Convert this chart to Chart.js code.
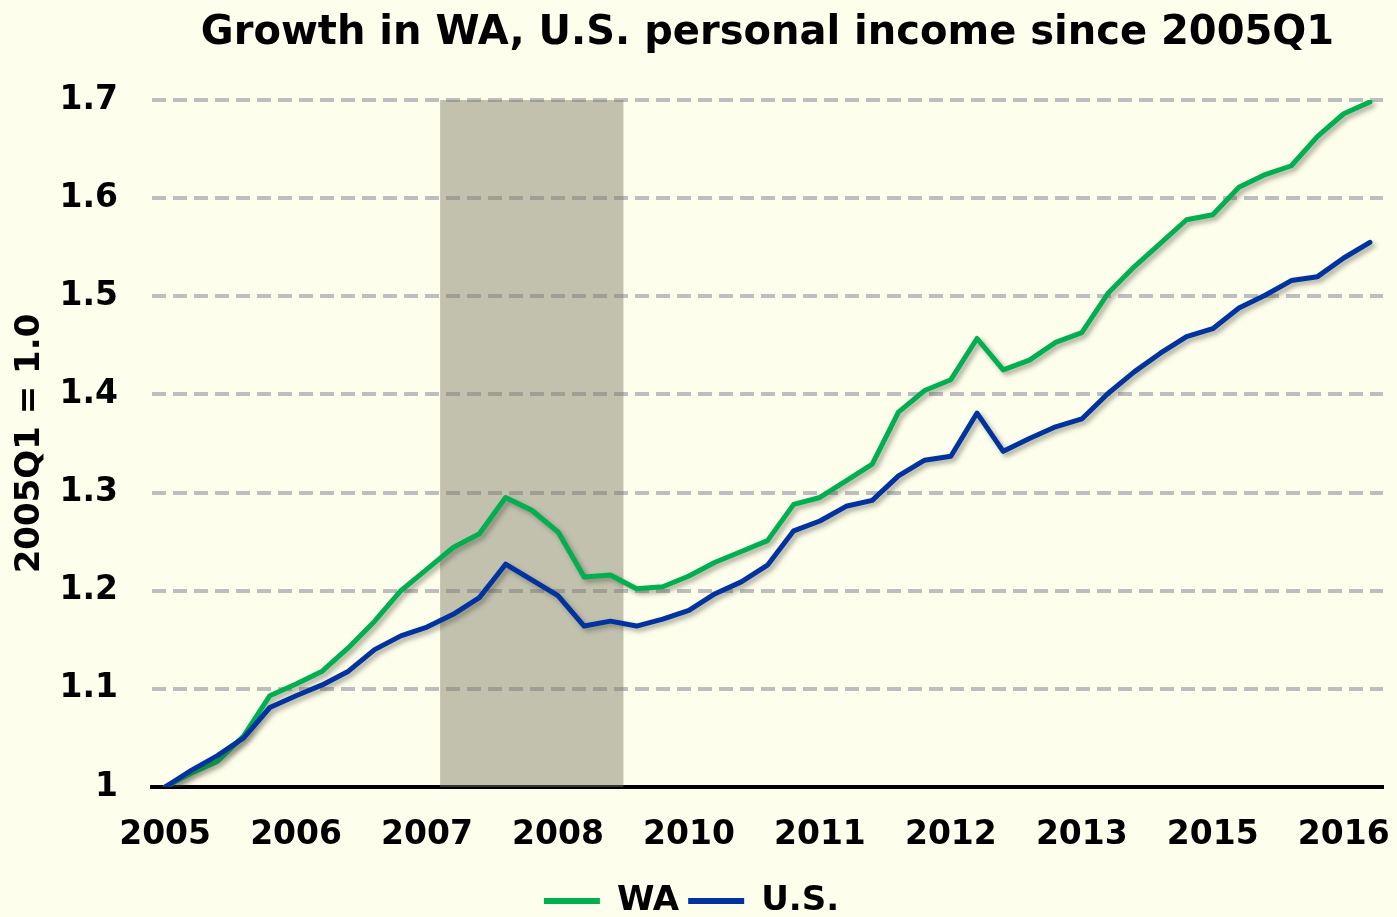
<!DOCTYPE html>
<html>
<head>
<meta charset="utf-8">
<script src="https://cdn.jsdelivr.net/npm/chart.js@4"></script>
<style>
  html, body { margin: 0; padding: 0; background: #fefeec; }
  #wrap { width: 1397px; height: 917px; }
</style>
</head>
<body>
<div id="wrap"><canvas id="myChart"></canvas></div>
<script>
const quarters = [
  '2005Q1','2005Q2','2005Q3','2005Q4','2006Q1','2006Q2','2006Q3','2006Q4',
  '2007Q1','2007Q2','2007Q3','2007Q4','2008Q1','2008Q2','2008Q3','2008Q4',
  '2009Q1','2009Q2','2009Q3','2009Q4','2010Q1','2010Q2','2010Q3','2010Q4',
  '2011Q1','2011Q2','2011Q3','2011Q4','2012Q1','2012Q2','2012Q3','2012Q4',
  '2013Q1','2013Q2','2013Q3','2013Q4','2014Q1','2014Q2','2014Q3','2014Q4',
  '2015Q1','2015Q2','2015Q3','2015Q4','2016Q1','2016Q2','2016Q3'
];

const wa = [1.000, 1.014, 1.026, 1.052, 1.093, 1.105, 1.118, 1.142, 1.169, 1.200,
  1.222, 1.244, 1.258, 1.295, 1.282, 1.260, 1.214, 1.216, 1.202, 1.204,
  1.215, 1.229, 1.240, 1.251, 1.288, 1.295, 1.312, 1.329, 1.382, 1.404,
  1.415, 1.457, 1.425, 1.435, 1.453, 1.463, 1.503, 1.530, 1.554, 1.578,
  1.583, 1.611, 1.624, 1.633, 1.663, 1.686, 1.698];

const us = [1.000, 1.017, 1.032, 1.050, 1.081, 1.093, 1.104, 1.118, 1.140, 1.154,
  1.163, 1.176, 1.193, 1.227, 1.211, 1.195, 1.164, 1.169, 1.164, 1.171,
  1.180, 1.197, 1.209, 1.226, 1.261, 1.271, 1.286, 1.292, 1.317, 1.333,
  1.337, 1.381, 1.342, 1.355, 1.367, 1.375, 1.401, 1.423, 1.442, 1.459,
  1.467, 1.488, 1.501, 1.516, 1.520, 1.539, 1.555];

// shaded recession quarters
const recession = ['2007Q4','2008Q1','2008Q2','2008Q3','2008Q4','2009Q1','2009Q2'];

const yTickLabels = ['1', '1.1', '1.2', '1.3', '1.4', '1.5', '1.6', '1.7'];

const FONT = "'DejaVu Sans', Verdana, sans-serif";

// one wide bar in the middle quarter of the recession, as wide as the recession
const midQuarter = recession[Math.floor(recession.length / 2)];

const lineShadow = {
  id: 'lineShadow',
  beforeDatasetDraw(chart, args) {
    if (args.meta.type !== 'line') return;
    const ctx = chart.ctx;
    ctx.save();
    ctx.shadowColor = 'rgba(60,60,40,0.45)';
    ctx.shadowBlur = 5;
    ctx.shadowOffsetX = 3;
    ctx.shadowOffsetY = 3;
  },
  afterDatasetDraw(chart, args) {
    if (args.meta.type !== 'line') return;
    chart.ctx.restore();
  }
};

const ctx = document.getElementById('myChart');

new Chart(ctx, {
  data: {
    labels: quarters,
    datasets: [
      {
        type: 'line',
        label: 'WA',
        data: wa,
        borderColor: '#00b050',
        backgroundColor: '#00b050',
        borderWidth: 5,
        pointRadius: 0,
        tension: 0,
        borderCapStyle: 'round',
        borderJoinStyle: 'round',
        order: 2
      },
      {
        type: 'line',
        label: 'U.S.',
        data: us,
        borderColor: '#0033a0',
        backgroundColor: '#0033a0',
        borderWidth: 5,
        pointRadius: 0,
        tension: 0,
        borderCapStyle: 'round',
        borderJoinStyle: 'round',
        order: 1
      },
      {
        type: 'bar',
        label: 'Recession',
        data: quarters.map(q => q === midQuarter ? [1, 1.7] : null),
        backgroundColor: 'rgba(120,120,100,0.45)',
        barPercentage: recession.length,
        categoryPercentage: 1,
        inflateAmount: 0,
        order: 3
      }
    ]
  },
  options: {
    responsive: true,
    maintainAspectRatio: false,
    animation: false,
    layout: { padding: { left: 0, right: 14, top: 0, bottom: -11 } },
    scales: {
      x: {
        offset: true,
        afterFit(scale) {
          scale.height = 88;
          scale.paddingLeft = 0;
          scale.paddingRight = 0;
        },
        grid: { display: false, drawTicks: false },
        border: { display: true, color: '#000', width: 4 },
        ticks: {
          autoSkip: false,
          maxRotation: 0,
          padding: 34,
          color: '#000',
          font: { family: FONT, size: 33, weight: 'bold', lineHeight: 0.9 },
          callback: function (val, i) {
            return i % 5 === 0 ? quarters[i].slice(0, 4) : '';
          }
        }
      },
      y: {
        min: 1,
        max: 1.7,
        afterFit(scale) { scale.width = 152; },
        grid: {
          color: (c) => c.tick && c.tick.value === 1 ? 'rgba(0,0,0,0)' : '#bebebe',
          lineWidth: 4,
          drawTicks: false
        },
        border: { display: false, dash: [14, 7] },
        ticks: {
          stepSize: 0.1,
          padding: 34,
          color: '#000',
          font: { family: FONT, size: 33, weight: 'bold' },
          callback: function (val, i) { return yTickLabels[i]; }
        },
        title: {
          display: true,
          text: '2005Q1 = 1.0',
          color: '#000',
          padding: { top: 10, bottom: 0 },
          font: { family: FONT, size: 34, weight: 'bold' }
        }
      }
    },
    plugins: {
      title: {
        display: true,
        fullSize: false,
        text: 'Growth in WA, U.S. personal income since 2005Q1',
        color: '#000',
        padding: { top: 10, bottom: 42 },
        font: { family: FONT, size: 40, weight: 'bold' }
      },
      legend: {
        position: 'bottom',
        labels: {
          color: '#000',
          boxWidth: 56,
          boxHeight: 6,
          padding: 9,
          font: { family: FONT, size: 34, weight: 'bold' },
          filter: (item) => item.datasetIndex < 2,
          sort: (a, b) => a.datasetIndex - b.datasetIndex,
          generateLabels: (chart) =>
            Chart.defaults.plugins.legend.labels.generateLabels(chart)
              .map(l => Object.assign(l, { lineWidth: 0 }))
        }
      },
      tooltip: { enabled: false }
    }
  },
  plugins: [lineShadow]
});
</script>
</body>
</html>
